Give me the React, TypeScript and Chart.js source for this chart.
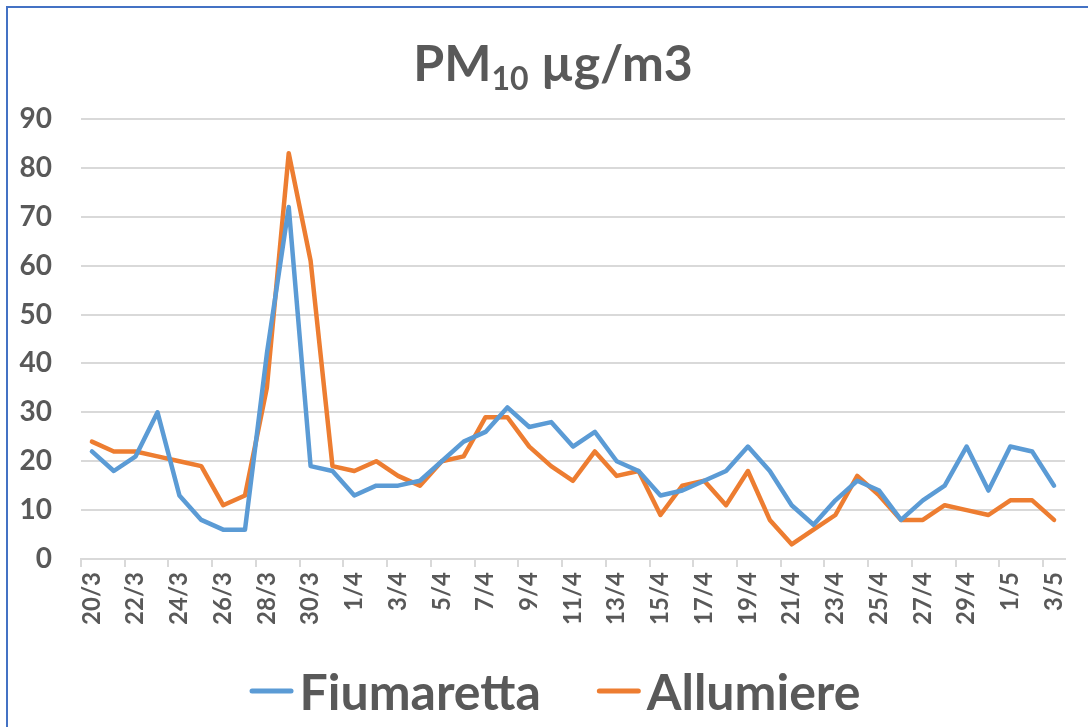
import React, { useEffect, useRef } from "react";
import { Chart, registerables } from "chart.js";

Chart.register(...registerables);

const categories = [
  "20/3", "21/3", "22/3", "23/3", "24/3", "25/3", "26/3", "27/3", "28/3", "29/3", "30/3", "31/3",
  "1/4", "2/4", "3/4", "4/4", "5/4", "6/4", "7/4", "8/4", "9/4", "10/4", "11/4", "12/4", "13/4",
  "14/4", "15/4", "16/4", "17/4", "18/4", "19/4", "20/4", "21/4", "22/4", "23/4", "24/4", "25/4",
  "26/4", "27/4", "28/4", "29/4", "30/4", "1/5", "2/5", "3/5",
];

const fiumaretta = [
  22, 18, 21, 30, 13, 8, 6, 6, 42, 72, 19, 18, 13, 15, 15, 16, 20, 24, 26, 31, 27, 28, 23,
  26, 20, 18, 13, 14, 16, 18, 23, 18, 11, 7, 12, 16, 14, 8, 12, 15, 23, 14, 23, 22, 15,
];

const allumiere = [
  24, 22, 22, 21, 20, 19, 11, 13, 35, 83, 61, 19, 18, 20, 17, 15, 20, 21, 29, 29, 23, 19, 16,
  22, 17, 18, 9, 15, 16, 11, 18, 8, 3, 6, 9, 17, 13, 8, 8, 11, 10, 9, 12, 12, 8,
];

const seriesNames = ["Fiumaretta", "Allumiere"];
const seriesColors = ["#5B9BD5", "#ED7D31"];
const yMin = 0;
const yMax = 90;
const yStep = 10;

const FONT = "Lato, 'Open Sans', sans-serif";
const TEXT = "#595959";
const GRID = "#d9d9d9";

const legendPlugin = {
  id: "excelLegend",
  afterDraw(chart: any) {
    const ctx = chart.ctx as CanvasRenderingContext2D;
    ctx.save();
    ctx.font = `bold 50px ${FONT}`;
    const lineLen = 44;
    const gapLine = 6;
    const gapItem = 56;
    const items = chart.data.datasets.map((ds: any) => ({
      text: ds.label as string,
      color: ds.borderColor as string,
      w: ctx.measureText(ds.label).width,
    }));
    const total =
      items.reduce((s: number, it: any) => s + lineLen + gapLine + it.w, 0) +
      gapItem * (items.length - 1);
    let x = 555 - total / 2;
    const yLine = 691;
    const yBase = 710;
    items.forEach((it: any) => {
      ctx.strokeStyle = it.color;
      ctx.lineWidth = 5;
      ctx.lineCap = "round";
      ctx.beginPath();
      ctx.moveTo(x + 2.5, yLine);
      ctx.lineTo(x + lineLen - 2.5, yLine);
      ctx.stroke();
      x += lineLen + gapLine;
      ctx.fillStyle = TEXT;
      ctx.textAlign = "left";
      ctx.textBaseline = "alphabetic";
      ctx.fillText(it.text, x, yBase);
      x += it.w + gapItem;
    });
    ctx.restore();
  },
};

export default function App() {
  const canvasRef = useRef<HTMLCanvasElement | null>(null);

  useEffect(() => {
    const canvas = canvasRef.current;
    if (!canvas) return;
    const chart = new Chart(canvas, {
      type: "line",
      data: {
        labels: categories,
        datasets: [
          {
            label: seriesNames[0],
            data: fiumaretta,
            borderColor: seriesColors[0],
            backgroundColor: seriesColors[0],
            borderWidth: 4.5,
            pointRadius: 0,
            tension: 0,
            borderJoinStyle: "round",
            borderCapStyle: "round",
          },
          {
            label: seriesNames[1],
            data: allumiere,
            borderColor: seriesColors[1],
            backgroundColor: seriesColors[1],
            borderWidth: 4.5,
            pointRadius: 0,
            tension: 0,
            borderJoinStyle: "round",
            borderCapStyle: "round",
          },
        ],
      },
      options: {
        responsive: false,
        animation: false,
        events: [],
        layout: { padding: { left: 0, right: 13, top: 119, bottom: 88 } },
        plugins: {
          legend: { display: false },
          title: { display: false },
          tooltip: { enabled: false },
        },
        scales: {
          x: {
            type: "category",
            offset: true,
            afterFit: (scale: any) => {
              scale.height = 80;
            },
            grid: {
              offset: true,
              drawOnChartArea: false,
              drawTicks: true,
              tickLength: 8,
              lineWidth: 2,
              color: (ctx: any) => (ctx.index % 2 === 0 ? GRID : "rgba(0,0,0,0)"),
            },
            border: { display: true, color: GRID, width: 2 },
            ticks: {
              autoSkip: false,
              maxRotation: 90,
              minRotation: 90,
              padding: 5,
              color: TEXT,
              font: { family: FONT, size: 24, weight: "bold" },
              callback: (_v: any, i: number) => (i % 2 === 0 ? categories[i] : ""),
            },
          },
          y: {
            min: yMin,
            max: yMax,
            afterFit: (scale: any) => {
              scale.width = 81;
            },
            grid: { color: GRID, lineWidth: 2, drawTicks: false },
            border: { display: false },
            ticks: {
              stepSize: yStep,
              padding: 29,
              color: TEXT,
              font: { family: FONT, size: 28, weight: "bold" },
            },
          },
        },
      },
      plugins: [legendPlugin],
    });
    return () => chart.destroy();
  }, []);

  return (
    <div>
      <div
        style={{
          position: "fixed",
          left: 6,
          top: 6,
          right: 0,
          bottom: 0,
          borderTop: "2px solid #4472C4",
          borderLeft: "2px solid #4472C4",
          background: "#fff",
        }}
      />
      <canvas
        ref={canvasRef}
        width={1088}
        height={727}
        style={{ position: "fixed", left: 0, top: 0, width: 1088, height: 727 }}
      />
      <div
        style={{
          position: "fixed",
          left: 0,
          top: 37,
          width: 1106,
          textAlign: "center",
          fontFamily: FONT,
          fontWeight: "bold",
          fontSize: 50,
          lineHeight: "50px",
          color: TEXT,
          whiteSpace: "nowrap",
        }}
      >
        PM<span style={{ fontSize: 32, verticalAlign: -9 }}>10</span> µg/m3
      </div>
    </div>
  );
}
